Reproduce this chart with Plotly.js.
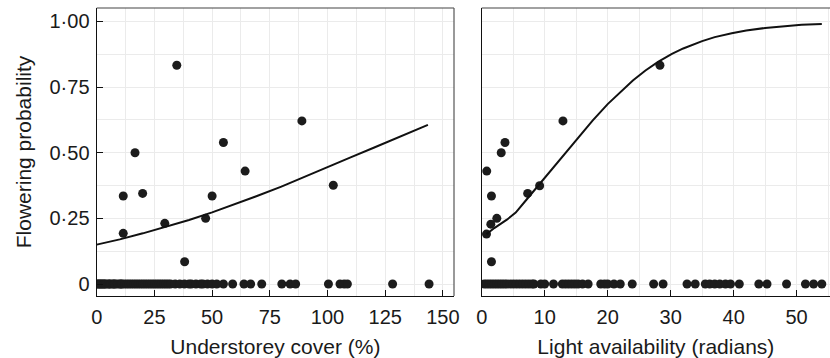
<!DOCTYPE html>
<html><head><meta charset="utf-8">
<script src="https://cdn.plot.ly/plotly-3.0.1.min.js"></script>
<style>html,body{margin:0;padding:0;background:#fff}#chart{width:830px;height:358px}</style>
</head><body><div id="chart"></div>
<script>
// ---- data: understorey cover panel ----
const coverPosX = [34.7, 16.6, 54.9, 64.3, 88.9, 11.5, 19.9, 50.0, 102.5, 11.5, 29.5, 47.2, 38.1];
const coverPosY = [0.833, 0.50, 0.539, 0.43, 0.621, 0.335, 0.345, 0.335, 0.376, 0.193, 0.231, 0.25, 0.085];
const coverZeroX = [0,0.5,1,1.5,2,2.5,3,3.5,4,5,5.5,6,7,7.5,8,9,10,10.5,11,12,13,14,15,16,17,18,19,20,21,22,23,24,25,26,27,28,29,30,31,
  32,34,36,38,40,41,43,45,46,48,50,52,54.9,58.9,63.8,66.7,71.5,80.2,83.8,86.2,100.4,105.4,107.2,108.6,128.2,144.0];
const coverFitX = [0,10,20,30,40,50,60,70,80,90,100,110,120,130,143.5];
const coverFitY = [0.150,0.170,0.193,0.217,0.244,0.273,0.304,0.337,0.371,0.407,0.444,0.482,0.519,0.557,0.606];

// ---- data: light availability panel ----
const lightPosX = [28.3, 12.9, 3.7, 3.1, 0.8, 1.55, 7.3, 9.2, 2.4, 1.45, 0.76, 1.55];
const lightPosY = [0.833, 0.621, 0.539, 0.50, 0.43, 0.335, 0.345, 0.374, 0.25, 0.228, 0.19, 0.085];
const lightZeroX = [0.4,0.8,1.2,1.6,2,2.4,2.8,3.2,3.6,4,4.5,5,5.5,6,6.5,7,7.5,8,8.3,9.4,10.0,11.4,
  12.8,13.3,13.8,14.3,14.8,15.3,16.0,16.9,18.9,19.5,20,21,22,23.9,27.3,28.8,32.6,33.9,35.5,36.2,37,37.8,38.7,39.5,40.9,44.0,45.3,48.4,51.4,52.7,54.0];
const lightFitX = [0.76,2,4,5.4,7,9,11,13,15,17.6,20,22.3,24,26,28,30.2,32,35,37,39.7,42,45,48,50.8,54];
const lightFitY = [0.19,0.213,0.245,0.272,0.318,0.376,0.434,0.492,0.549,0.622,0.685,0.739,0.775,0.813,0.846,0.876,0.897,0.925,0.940,0.955,0.965,0.975,0.982,0.987,0.990];

const yTickVals = [0, 0.25, 0.5, 0.75, 1];
const yTickText = ['0', '0·25', '0·50', '0·75', '1·00'];
const xTitle1 = 'Understorey cover (%)';
const xTitle2 = 'Light availability (radians)';
const yTitle = 'Flowering probability';

const ptColor = '#1c1c1c';
const mk = {color: ptColor, size: 9};
const traces = [
  {x: coverZeroX, y: coverZeroX.map(() => 0), type: 'scatter', mode: 'markers', marker: mk, xaxis: 'x', yaxis: 'y', hoverinfo: 'skip'},
  {x: coverPosX, y: coverPosY, type: 'scatter', mode: 'markers', marker: mk, xaxis: 'x', yaxis: 'y'},
  {x: coverFitX, y: coverFitY, type: 'scatter', mode: 'lines', line: {color: '#111', width: 2}, xaxis: 'x', yaxis: 'y'},
  {x: lightZeroX, y: lightZeroX.map(() => 0), type: 'scatter', mode: 'markers', marker: mk, xaxis: 'x2', yaxis: 'y2'},
  {x: lightPosX, y: lightPosY, type: 'scatter', mode: 'markers', marker: mk, xaxis: 'x2', yaxis: 'y2'},
  {x: lightFitX, y: lightFitY, type: 'scatter', mode: 'lines', line: {color: '#111', width: 2}, xaxis: 'x2', yaxis: 'y2'}
];

const tickFont = {family: 'Liberation Sans, Arial, sans-serif', size: 20, color: '#1a1a1a'};
const titleFont = {family: 'Liberation Sans, Arial, sans-serif', size: 21, color: '#1a1a1a'};
const grid = '#ebebeb';
const xCommon = {
  showline: true, linecolor: '#111', linewidth: 1.2, ticks: 'inside', ticklen: 6, tickcolor: '#111', tickwidth: 1,
  showgrid: true, gridcolor: grid, gridwidth: 1, zeroline: false, tickfont: tickFont, ticklabelstandoff: 3
};
const layout = {
  width: 830, height: 358,
  margin: {l: 0, r: 0, t: 7.5, b: 62},
  paper_bgcolor: '#fff', plot_bgcolor: '#fff',
  showlegend: false, font: tickFont,
  xaxis: Object.assign({}, xCommon, {domain: [96.7/830, 454/830], range: [0, 154.8], tickvals: [0,25,50,75,100,125,150],
    minor: {dtick: 12.5, tick0: 0, showgrid: true, gridcolor: grid, ticks: ''}, title: {text: xTitle1, font: titleFont, standoff: 12}, anchor: 'y'}),
  xaxis2: Object.assign({}, xCommon, {domain: [481.7/830, 1], range: [0, 55.3], tickvals: [0,10,20,30,40,50],
    minor: {dtick: 5, tick0: 0, showgrid: true, gridcolor: grid, ticks: ''}, title: {text: xTitle2, font: titleFont, standoff: 12}, anchor: 'y2'}),
  yaxis: {domain: [0, 1], range: [-0.0456, 1.051], tickvals: yTickVals, ticktext: yTickText, showline: true, linecolor: '#111', linewidth: 1.2,
    ticks: 'inside', ticklen: 6, tickcolor: '#111', showgrid: true, gridcolor: grid, zeroline: false, tickfont: tickFont, ticklabelstandoff: 2,
    minor: {dtick: 0.125, tick0: 0, showgrid: true, gridcolor: grid, ticks: ''},
    title: {text: yTitle, font: titleFont, standoff: 12}, anchor: 'x'},
  yaxis2: {domain: [0, 1], range: [-0.0456, 1.051], tickvals: yTickVals, showticklabels: false, showline: true, linecolor: '#111', linewidth: 1.2,
    ticks: '', showgrid: true, gridcolor: grid, zeroline: false,
    minor: {dtick: 0.125, tick0: 0, showgrid: true, gridcolor: grid, ticks: ''}, anchor: 'x2'},
  shapes: [
    {type: 'line', xref: 'x domain', yref: 'y domain', x0: 0, x1: 1, y0: 1, y1: 1, line: {color: '#444', width: 1.2}},
    {type: 'line', xref: 'x domain', yref: 'y domain', x0: 1, x1: 1, y0: 0, y1: 1, line: {color: '#555', width: 1.2}},
    {type: 'line', xref: 'x2 domain', yref: 'y2 domain', x0: 0, x1: 1, y0: 1, y1: 1, line: {color: '#444', width: 1.2}}
  ]
};
Plotly.newPlot('chart', traces, layout, {staticPlot: true, displayModeBar: false});
</script></body></html>
